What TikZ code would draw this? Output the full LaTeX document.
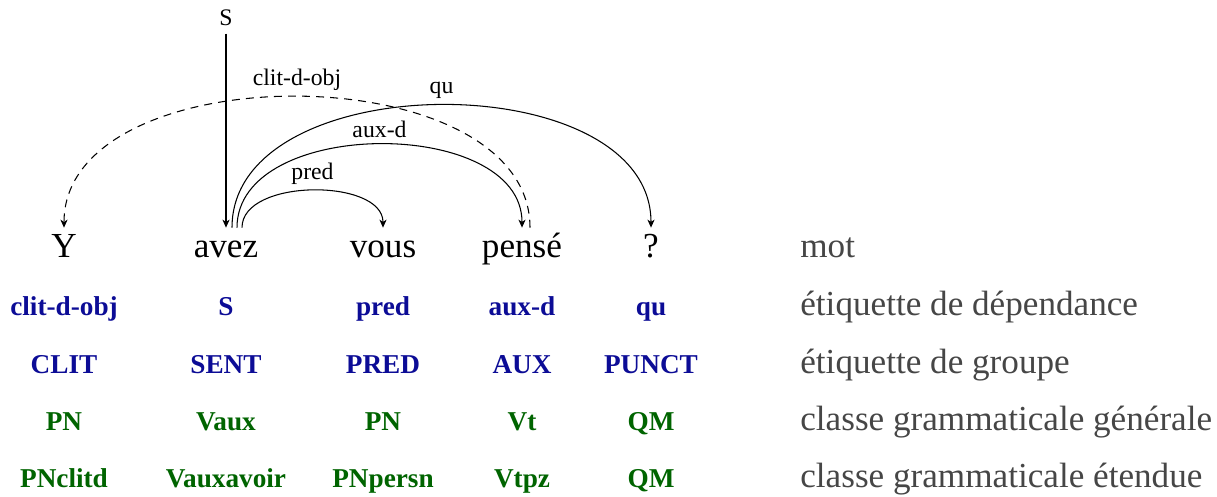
\documentclass[tikz,border=0pt]{standalone}
\usepackage{fontspec}
\usetikzlibrary{arrows.meta}
\setmainfont{Liberation Serif}
\definecolor{deplab}{RGB}{12,12,150}
\definecolor{poslab}{RGB}{0,100,0}
\definecolor{legende}{RGB}{70,70,70}
\tikzset{
  word/.style={font=\fontsize{20}{24}\selectfont, anchor=base, inner sep=0pt,
    text height=0.6cm, text depth=0.1cm},
  arclab/.style={font=\fontsize{13.5}{16}\selectfont},
  bleu/.style={font=\fontsize{15.5}{18}\selectfont\bfseries, text=deplab, anchor=base},
  vert/.style={font=\fontsize{15.5}{18}\selectfont\bfseries, text=poslab, anchor=base},
  legend/.style={font=\fontsize{20}{24}\selectfont, text=legende, anchor=base west, inner sep=0pt}
}
\begin{document}
\begin{tikzpicture}[>={Stealth[length=4.5pt, width=4pt, inset=1.2pt]}]
        \useasboundingbox (0,0) rectangle (24.34,9.94);

        % la phrase
        \begin{scope}[every node/.style={word}]
          \node (y)     at (1.28,4.78)  {Y};
          \node (avez)  at (4.52,4.78)  {avez};
          \node (vous)  at (7.66,4.78)  {vous};
          \node (pense) at (10.44,4.78) {pensé};
          \node (qm)    at (13.02,4.78) {?};
        \end{scope}

        \node[arclab, anchor=base, inner sep=4pt] (root) at (4.52,9.42) {S};

        % les dépendances
        \begin{scope}[every node/.style={arclab, above}, every edge/.style={draw, ->, line width=0.6pt}]
          \path (root) edge (avez);
          \path ([xshift=0.32cm]avez.north) edge[out=90, in=90, looseness=0.9] node {pred} (vous.north);
          \path ([xshift=0.22cm]avez.north) edge[out=90, in=90] node {aux-d} (pense.north);
          \path ([xshift=0.12cm]avez.north) edge[out=90, in=90] node {qu} (qm.north);
          \path ([xshift=0.16cm]pense.north) edge[out=90, in=90, looseness=0.96,
            dash pattern=on 4.5pt off 3.5pt] node {clit-d-obj} (y.north);
        \end{scope}

        % étiquettes de dépendance et de groupe
        \node[bleu] (d1) at (1.28,3.62)  {clit-d-obj};
        \node[bleu] (d2) at (4.52,3.62)  {S};
        \node[bleu] (d3) at (7.66,3.62)  {pred};
        \node[bleu] (d4) at (10.44,3.62) {aux-d};
        \node[bleu] (d5) at (13.02,3.62) {qu};

        \node[bleu] (g1) at (1.28,2.46)  {CLIT};
        \node[bleu] (g2) at (4.52,2.46)  {SENT};
        \node[bleu] (g3) at (7.66,2.46)  {PRED};
        \node[bleu] (g4) at (10.44,2.46) {AUX};
        \node[bleu] (g5) at (13.02,2.46) {PUNCT};

        % classes grammaticales
        \node[vert] (c1) at (1.28,1.32)  {PN};
        \node[vert] (c2) at (4.52,1.32)  {Vaux};
        \node[vert] (c3) at (7.66,1.32)  {PN};
        \node[vert] (c4) at (10.44,1.32) {Vt};
        \node[vert] (c5) at (13.02,1.32) {QM};

        \node[vert] (e1) at (1.28,0.18)  {PNclitd};
        \node[vert] (e2) at (4.52,0.18)  {Vauxavoir};
        \node[vert] (e3) at (7.66,0.18)  {PNpersn};
        \node[vert] (e4) at (10.44,0.18) {Vtpz};
        \node[vert] (e5) at (13.02,0.18) {QM};

        % légende
        \node[legend] (l1) at (16,4.78) {mot};
        \node[legend] (l2) at (16,3.62) {étiquette de dépendance};
        \node[legend] (l3) at (16,2.46) {étiquette de groupe};
        \node[legend] (l4) at (16,1.32) {classe grammaticale générale};
        \node[legend] (l5) at (16,0.18) {classe grammaticale étendue};

      \end{tikzpicture}
\end{document}
